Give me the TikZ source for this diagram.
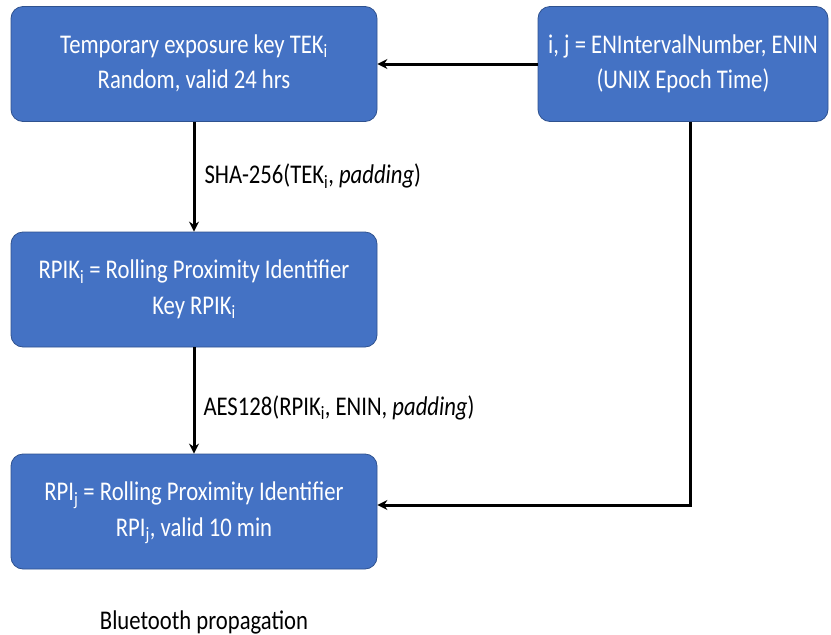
\documentclass[tikz,border=0pt]{standalone}
\usepackage{fontspec}
\setmainfont{Carlito}
\usepackage{graphicx}
\usetikzlibrary{positioning,arrows.meta}
\tikzstyle{diagram} = [x = 1pt, y = -1pt]
\definecolor{boxBlue}{HTML}{4472C4}
\definecolor{boxEdge}{HTML}{2F528F}
\tikzstyle{keyBox} = [fill=boxBlue, draw=boxEdge, line width=.8pt, rounded corners = 12pt, text=white, minimum width=366pt, minimum height=115pt, inner sep=0pt]
\tikzstyle{flowArrow} = [line width=3pt, -{Stealth[length=10pt, width=10pt]}]
\tikzstyle{stepLabel} = [inner sep=0pt]
\newcommand{\narrowText}[1]{\scalebox{.84}[1]{\fontsize{27}{35.6}\selectfont\begin{tabular}{@{}c@{}}#1\end{tabular}}}

\begin{document}
\begin{tikzpicture}[diagram]
  \useasboundingbox (0,0) rectangle (831,635);
  \node [keyBox] (tek) at (194,64) {\narrowText{Temporary exposure key TEK\textsubscript{i}\\Random, valid 24 hrs}};
  \node [keyBox, minimum width=290pt] (enin) at (683,64) {\narrowText{i, j = ENIntervalNumber, ENIN\\(UNIX Epoch Time)}};
  \node [keyBox] (rpik) at (194,289.5) {\narrowText{RPIK\textsubscript{i} = Rolling Proximity Identifier\\Key RPIK\textsubscript{i}}};
  \node [keyBox] (rpi) at (194,511.5) {\narrowText{RPI\textsubscript{j} = Rolling Proximity Identifier\\RPI\textsubscript{j}, valid 10 min}};
  \node (bluetooth) at (204,622) {\narrowText{Bluetooth propagation}};
  \coordinate (bend) at (690,505);
  % arrows
  \draw [flowArrow] (enin.west) -- (tek.east);
  \draw [flowArrow] (tek) -- (rpik) node [stepLabel, midway, right=9pt] {\narrowText{SHA-256(TEK\textsubscript{i}, \textit{padding})}};
  \draw [flowArrow] (rpik) -- (rpi) node [stepLabel, pos=.57, right=8pt] {\narrowText{AES128(RPIK\textsubscript{i}, ENIN, \textit{padding})}};
  \draw [flowArrow] (enin.south -| bend) -- (bend) -- (bend -| rpi.east);
\end{tikzpicture}
\end{document}
